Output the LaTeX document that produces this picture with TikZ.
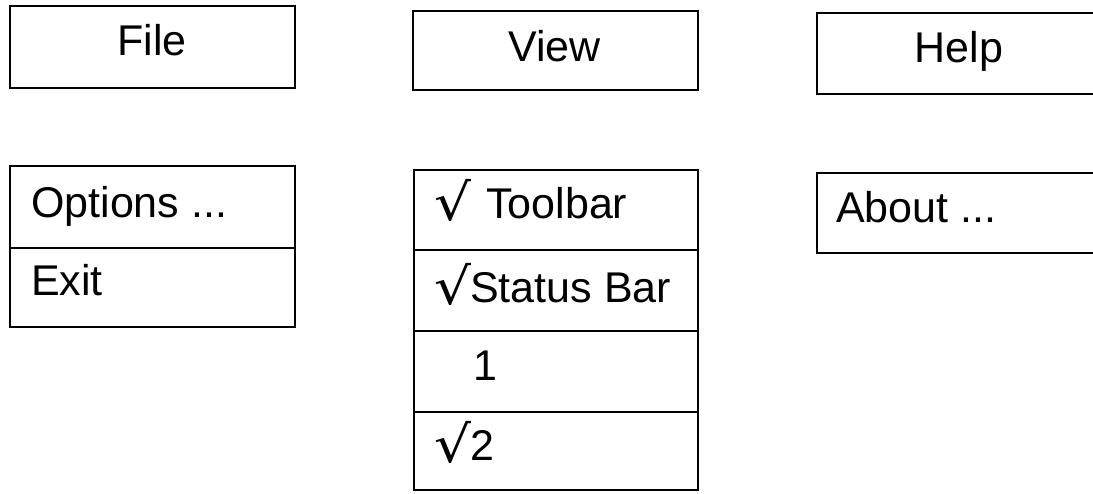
\documentclass[tikz,border=0pt]{standalone}
\usepackage{fontspec}
\setmainfont{Liberation Sans}
\newfontfamily\djv{DejaVu Sans}
\newcommand{\chk}{\makebox[36pt][l]{\raisebox{-2pt}{\scalebox{1.35}[1.18]{\djv √}}}}
\begin{document}
\begin{tikzpicture}[x=1pt,y=-1pt,
  box/.style={draw, line width=1.8pt, inner sep=0pt, anchor=north west},
  lbl/.style={inner sep=0pt, anchor=base west, font=\fontsize{43}{50}\selectfont},
  clbl/.style={inner sep=0pt, anchor=base, font=\fontsize{43}{50}\selectfont}]
\useasboundingbox (0,0) rectangle (1093,493);
% top bar
\node[box, minimum width=285pt, minimum height=82pt] (file) at (9,5) {};
\node[box, minimum width=285pt, minimum height=79pt] (view) at (412,10) {};
\node[box, minimum width=290pt, minimum height=81pt] (help) at (816,12) {};
\node[clbl] (filet) at (152,55) {File};
\node[clbl] (viewt) at (554.5,61) {View};
\node[clbl] (helpt) at (959,62) {Help};
% File menu
\node[box, minimum width=285pt, minimum height=82pt] (options) at (9,165) {};
\node[box, minimum width=285pt, minimum height=79pt] (exit) at (9,247) {};
\node[lbl] (optionst) at (31,217) {Options ...};
\node[lbl] (exitt) at (31,295) {Exit};
% View menu
\node[box, minimum width=284pt, minimum height=80pt] (toolbar) at (413,169) {};
\node[box, minimum width=284pt, minimum height=81pt] (statusbar) at (413,249) {};
\node[box, minimum width=284pt, minimum height=81pt] (one) at (413,330) {};
\node[box, minimum width=284pt, minimum height=78pt] (two) at (413,411) {};
\node[lbl] (toolbart) at (434,218) {\chk\hspace{16pt}Toolbar};
\node[lbl] (statusbart) at (434,302) {\chk Status Bar};
\node[lbl] (onet) at (473,380) {1};
\node[lbl] (twot) at (434,460) {\chk 2};
% Help menu
\node[box, minimum width=290pt, minimum height=80pt] (about) at (816,172) {};
\node[lbl] (aboutt) at (836,222) {About ...};
\end{tikzpicture}
\end{document}
